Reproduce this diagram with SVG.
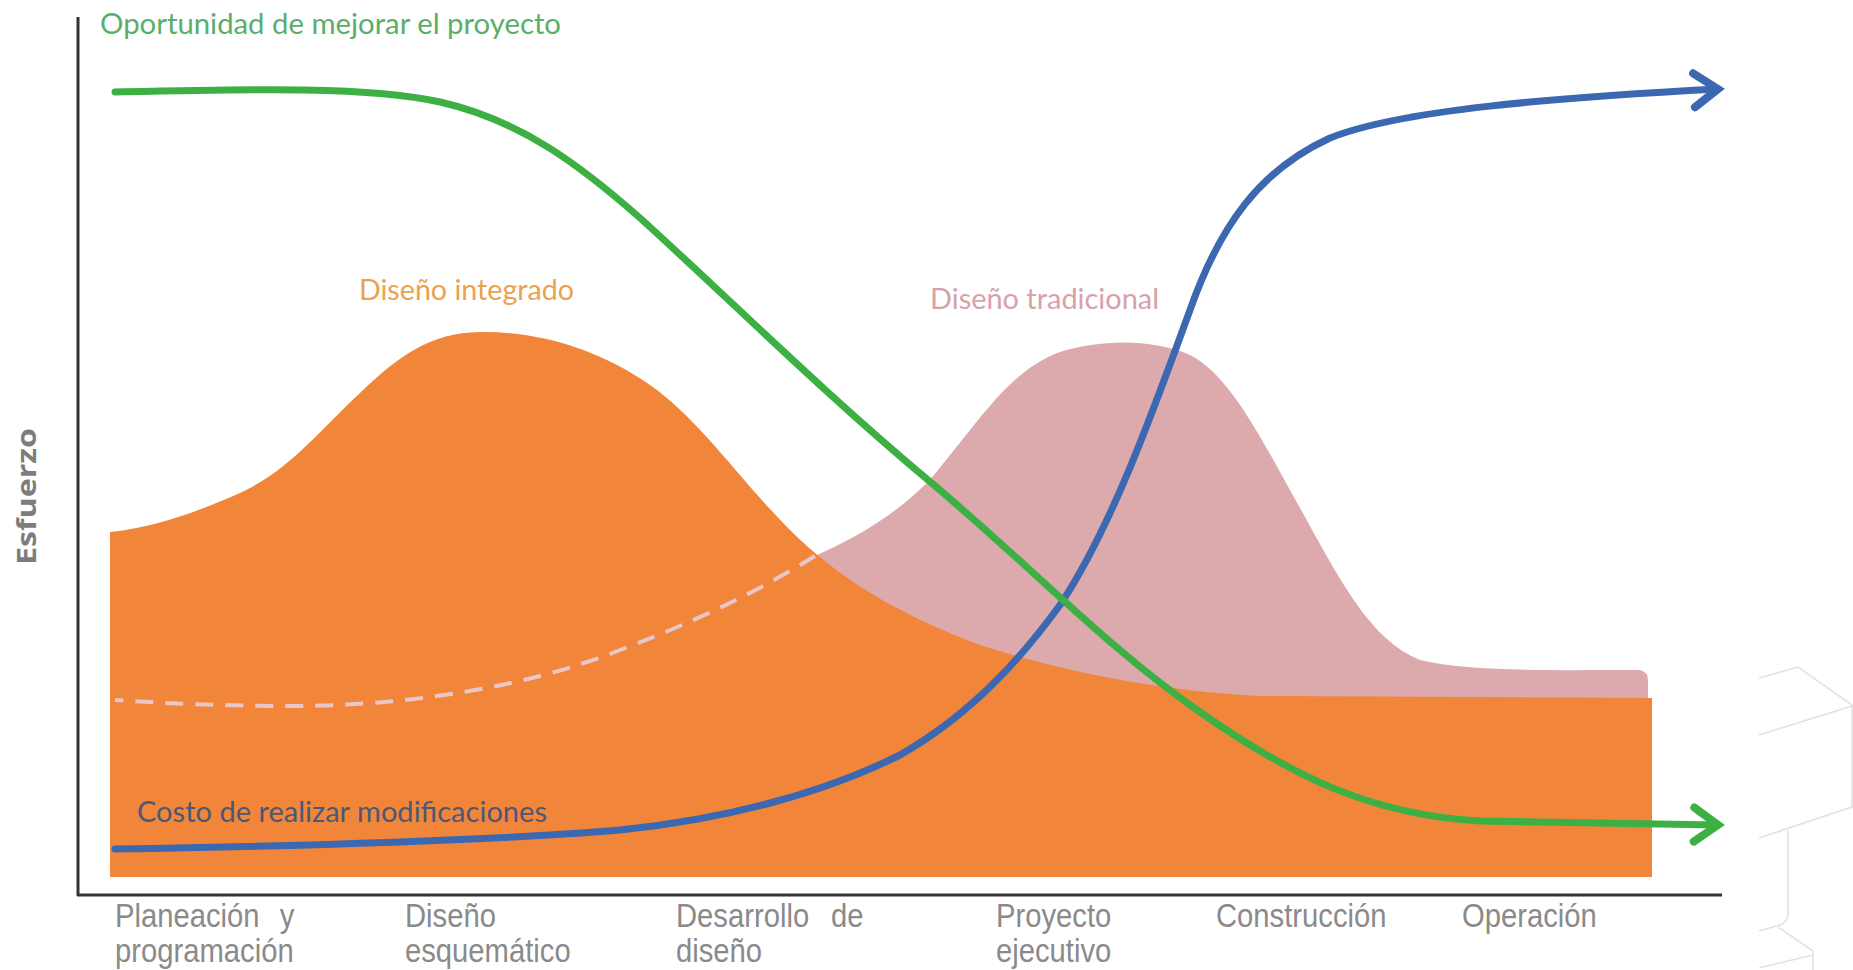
<svg xmlns="http://www.w3.org/2000/svg" width="1853" height="970" viewBox="0 0 1853 970">
<style>
.lbl{font-family:"Lato","Open Sans","Liberation Sans",sans-serif;}
.axlbl{font-family:"Liberation Sans",Arial,sans-serif;font-size:34px;fill:#8a8a8a;}
.curve{fill:none;stroke-width:7;stroke-linecap:round;stroke-linejoin:round;}
.deco{fill:none;stroke:#e2e2e2;stroke-width:1.6;}
</style>
<defs>
<marker id="chevB" markerUnits="userSpaceOnUse" viewBox="-40 -30 50 60" refX="0" refY="0" markerWidth="50" markerHeight="60" orient="auto">
<path d="M-24,-17 L0,0 L-24,17" fill="none" stroke="#3c68b1" stroke-width="8" stroke-linecap="round" stroke-linejoin="miter"/>
</marker>
<marker id="chevG" markerUnits="userSpaceOnUse" viewBox="-40 -30 50 60" refX="0" refY="0" markerWidth="50" markerHeight="60" orient="auto">
<path d="M-24,-17 L0,0 L-24,17" fill="none" stroke="#3cb043" stroke-width="8" stroke-linecap="round" stroke-linejoin="miter"/>
</marker>
</defs>
<rect width="1853" height="970" fill="#ffffff"/>

<g id="decoration">
<path class="deco" d="M1759,678 L1798,667 L1852,705 M1759,735 L1852,706 M1852,705 L1852,807 L1759,838 M1788,830 L1788,914 Q1788,922 1780,925 L1759,931 M1778,927 L1813,951 L1813,970 M1759,968 L1813,955"/>
</g>

<g id="areas">
<path id="traditional" d="M815,556 C850,540 890,520 930,480 C980,420 1010,370 1060,352 C1100,340 1150,338 1190,355 C1230,375 1262,440 1300,508 C1340,580 1370,640 1420,660 C1470,672 1550,670 1640,670 Q1648,672 1648,680 L1648,710 L815,710 Z" fill="#dca9ad"/>
<path id="integrated" d="M110,532 C150,528 190,515 240,493 C290,470 320,430 360,393 C400,355 430,333 480,332 C540,331 600,350 650,385 C700,420 740,480 790,530 C840,580 900,615 980,645 C1060,670 1150,690 1260,696 L1652,698 L1652,877 L110,877 Z" fill="#f1863a"/>
<path id="dashed" d="M815,556 C760,590 700,620 620,650 C520,690 400,705 300,706 C220,706 160,703 115,700" fill="none" stroke="#ebc6c8" stroke-width="4" stroke-dasharray="18 12"/>
</g>

<g id="axes">
<line x1="78" y1="17" x2="78" y2="896" stroke="#333" stroke-width="3"/>
<line x1="77" y1="895" x2="1722" y2="895" stroke="#333" stroke-width="3"/>
</g>

<g id="connectors">
<path id="blue" class="curve" stroke="#3c68b1" marker-end="url(#chevB)" d="M115,849 C300,846 500,840 620,830 C720,820 820,795 900,755 C970,715 1020,660 1060,605 C1110,530 1150,420 1190,310 C1220,225 1260,170 1330,138 C1400,110 1550,98 1718,89"/>
<path id="green" class="curve" stroke="#3cb043" marker-end="url(#chevG)" d="M115,92 C250,89 370,86 440,102 C520,120 580,165 640,218 C720,290 820,390 934,485 C1040,575 1110,650 1200,712 C1290,775 1370,815 1480,821 L1718,825"/>
</g>

<g id="labels">
<text class="lbl" x="100" y="34" font-size="28" fill="#5aae6a" textLength="461" lengthAdjust="spacingAndGlyphs">Oportunidad de mejorar el proyecto</text>
<text class="lbl" x="359" y="300" font-size="28" fill="#eba24e" textLength="215" lengthAdjust="spacingAndGlyphs">Diseño integrado</text>
<text class="lbl" x="930" y="309" font-size="28" fill="#d6a2aa" textLength="229" lengthAdjust="spacingAndGlyphs">Diseño tradicional</text>
<text class="lbl" x="137" y="822" font-size="29" fill="#4d5778" textLength="410" lengthAdjust="spacingAndGlyphs">Costo de realizar modificaciones</text>
<text class="lbl" x="0" y="0" font-size="27" font-weight="bold" fill="#7d7d7d" textLength="137" lengthAdjust="spacingAndGlyphs" transform="translate(36,565) rotate(-90)" style="font-family:'Open Sans','Liberation Sans',sans-serif">Esfuerzo</text>
</g>

<g id="xlabels">
<text class="axlbl" transform="translate(115,927) scale(0.86,1)" word-spacing="14">Planeación y</text>
<text class="axlbl" transform="translate(115,962) scale(0.86,1)">programación</text>
<text class="axlbl" transform="translate(405,927) scale(0.86,1)">Diseño</text>
<text class="axlbl" transform="translate(405,962) scale(0.86,1)">esquemático</text>
<text class="axlbl" transform="translate(676,927) scale(0.86,1)" word-spacing="16">Desarrollo de</text>
<text class="axlbl" transform="translate(676,962) scale(0.86,1)">diseño</text>
<text class="axlbl" transform="translate(996,927) scale(0.86,1)">Proyecto</text>
<text class="axlbl" transform="translate(996,962) scale(0.86,1)">ejecutivo</text>
<text class="axlbl" transform="translate(1216,927) scale(0.86,1)">Construcción</text>
<text class="axlbl" transform="translate(1462,927) scale(0.86,1)">Operación</text>
</g>
</svg>
